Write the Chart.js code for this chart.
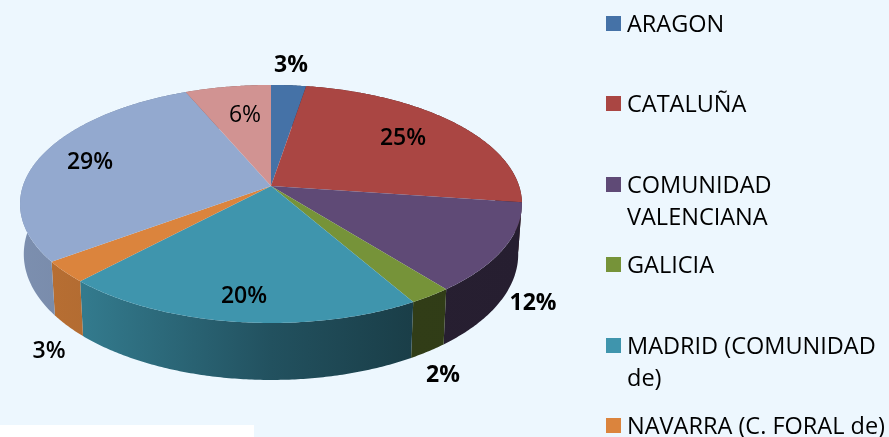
<!DOCTYPE html>
<html>
<head>
<meta charset="utf-8">
<style>
    html, body { margin: 0; padding: 0; }
    #wrap { position: relative; width: 889px; height: 437px; overflow: hidden; background: #edf7fe; font-family: "Open Sans", sans-serif; color: #000; }
    #blank { position: absolute; left: 0; top: 425px; width: 254px; height: 12px; background: #fff; }
    canvas { position: absolute; left: 0; top: 0; }
    .item { position: absolute; left: 606px; white-space: pre-line; font-size: 23.5px; line-height: 32px; }
    .item i { position: absolute; left: 0; top: 0; width: 15px; height: 15px; }
    .item span { display: block; margin-left: 21px; margin-top: -9px; }
</style>
</head>
<body>
<div id="wrap">
    <div id="blank"></div>
    <canvas id="pieChart" width="889" height="437"></canvas>
    <div id="legend"></div>
</div>
<script src="https://cdn.jsdelivr.net/npm/chart.js@4/dist/chart.umd.min.js"></script>
<script>
// two last slices have their legend rows cut off in the picture
const regiones = ["ARAGON", "CATALUÑA", "COMUNIDAD\nVALENCIANA", "GALICIA", "MADRID (COMUNIDAD\nde)", "NAVARRA (C. FORAL de)", "", ""];
const porcentajes = [2.6, 24.6, 12.1, 2.4, 20.3, 2.9, 28.7, 6.4];
const colores = ["#4572a7", "#aa4643", "#5f4a76", "#769339", "#3f95ad", "#db843d", "#93a9cf", "#d19392"];

// percent labels, one per slice
const etiquetas = [
    { x: 291, y: 65, peso: 700 },
    { x: 403, y: 138, peso: 600 },
    { x: 533, y: 303, peso: 700 },
    { x: 443, y: 375, peso: 700 },
    { x: 244, y: 296, peso: 600 },
    { x: 49, y: 351, peso: 600 },
    { x: 90, y: 162, peso: 600 },
    { x: 245, y: 115, peso: 400 },
];

// tilted pie: the circle goes through a perspective map so the centre sits above the ellipse middle
const centroX = 271, centroY = 186;
const escalaX = 248.1, escalaY = 88.2, fuga = -0.151;

function proyectar(angulo) {
    const u = Math.sin(angulo), v = -Math.cos(angulo);
    const w = 1 + fuga * v;
    return { x: centroX + escalaX * u / w, y: (centroY + escalaY * v) / w, v: v };
}

function fondo(p) {
    return { x: centroX + (p.x - centroX) * 0.985, y: p.y + 49 + 8 * p.v };
}

function arcoPuntos(arco) {
    const ini = arco.startAngle + Math.PI / 2, fin = arco.endAngle + Math.PI / 2;
    const pasos = Math.max(2, Math.ceil((fin - ini) / 0.01));
    const puntos = [];
    for (let i = 0; i <= pasos; i++) puntos.push(proyectar(ini + (fin - ini) * i / pasos));
    return puntos;
}

function oscurecer(hex, f) {
    const n = parseInt(hex.slice(1), 16);
    return `rgb(${(n >> 16) * f | 0},${((n >> 8) & 255) * f | 0},${(n & 255) * f | 0})`;
}

const pie3d = {
    id: "pie3d",
    beforeDatasetsDraw(chart) {
        const ctx = chart.ctx;
        const arcos = chart.getDatasetMeta(0).data;

        // sides first, the top face covers the back part of them
        arcos.forEach((arco, i) => {
            const puntos = arcoPuntos(arco);
            const grad = ctx.createLinearGradient(20, 0, 522, 0);
            grad.addColorStop(0, oscurecer(colores[i], 0.85));
            grad.addColorStop(0.13, oscurecer(colores[i], 0.82));
            grad.addColorStop(0.5, oscurecer(colores[i], 0.55));
            grad.addColorStop(0.78, oscurecer(colores[i], 0.42));
            grad.addColorStop(1, oscurecer(colores[i], 0.41));
            ctx.beginPath();
            puntos.forEach((p, k) => (k ? ctx.lineTo(p.x, p.y) : ctx.moveTo(p.x, p.y)));
            puntos.slice().reverse().forEach((p) => {
                const b = fondo(p);
                ctx.lineTo(b.x, b.y);
            });
            ctx.closePath();
            ctx.fillStyle = grad;
            ctx.fill();
        });

        arcos.forEach((arco, i) => {
            ctx.beginPath();
            ctx.moveTo(centroX, centroY);
            arcoPuntos(arco).forEach((p) => ctx.lineTo(p.x, p.y));
            ctx.closePath();
            ctx.fillStyle = colores[i];
            ctx.fill();
        });

        ctx.fillStyle = "#000";
        ctx.textAlign = "center";
        ctx.textBaseline = "middle";
        etiquetas.forEach((e, i) => {
            ctx.font = `${e.peso} 23px "Open Sans"`;
            ctx.fillText(Math.round(porcentajes[i]) + "%", e.x, e.y);
        });
        return false;
    },
};

new Chart(document.getElementById("pieChart").getContext("2d"), {
    type: "pie",
    data: {
        labels: regiones,
        datasets: [{ data: porcentajes, backgroundColor: colores, borderWidth: 0 }],
    },
    options: {
        responsive: false,
        animation: false,
        plugins: { legend: { display: false }, tooltip: { enabled: false } },
    },
    plugins: [pie3d],
});

const legend = document.getElementById("legend");
regiones.forEach((nombre, i) => {
    if (!nombre) return;
    legend.innerHTML += `<div class="item" style="top:${16 + i * 80.4}px"><i style="background:${colores[i]}"></i><span>${nombre}</span></div>`;
});
</script>
</body>
</html>
